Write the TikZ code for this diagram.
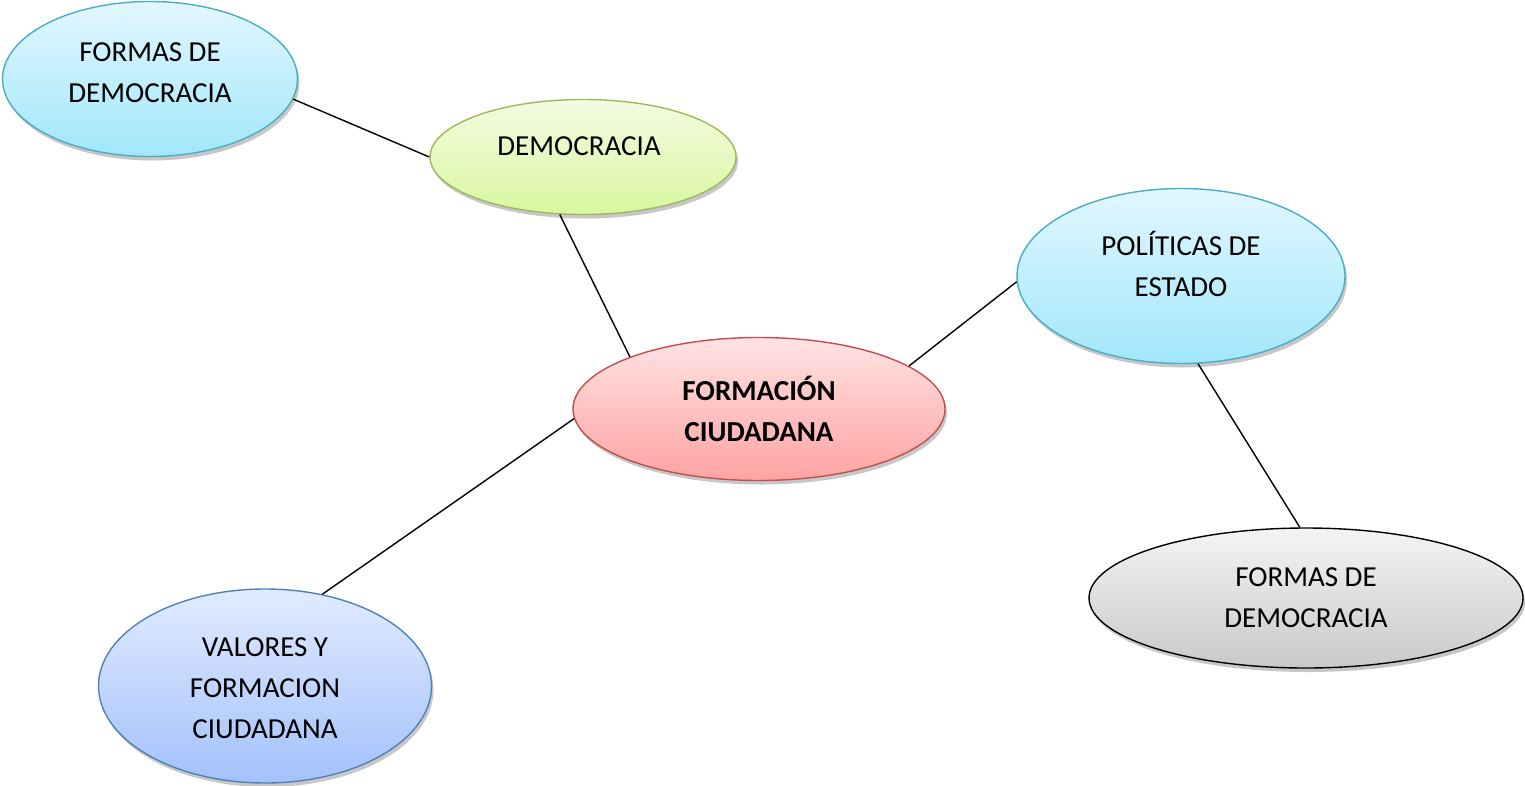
\documentclass[tikz,border=0pt]{standalone}
\usepackage{fontspec}
\setmainfont{Carlito}
\usetikzlibrary{shapes.geometric,shadows}
\definecolor{aquaTop}{HTML}{E2F7FE}
\definecolor{aquaBot}{HTML}{A2E7FB}
\definecolor{aquaLine}{HTML}{4BACC6}
\definecolor{greenTop}{HTML}{F4FBE2}
\definecolor{greenBot}{HTML}{D8F7A0}
\definecolor{greenLine}{HTML}{9BBB59}
\definecolor{redTop}{HTML}{FFE3E3}
\definecolor{redBot}{HTML}{FFA3A3}
\definecolor{redLine}{HTML}{C0504D}
\definecolor{blueTop}{HTML}{E1EBFF}
\definecolor{blueBot}{HTML}{A3C1FB}
\definecolor{blueLine}{HTML}{4F81BD}
\definecolor{grayTop}{HTML}{F4F4F4}
\definecolor{grayBot}{HTML}{C9C9C9}
\tikzset{
  bubble/.style={ellipse, inner sep=0pt, line width=1.4pt,
    drop shadow={shadow xshift=2pt, shadow yshift=-4pt, opacity=0.22, fill=black}},
  aqua/.style={bubble, draw=aquaLine, top color=aquaTop, bottom color=aquaBot},
  green/.style={bubble, draw=greenLine, top color=greenTop, bottom color=greenBot},
  red/.style={bubble, draw=redLine, top color=redTop, bottom color=redBot},
  blue/.style={bubble, draw=blueLine, top color=blueTop, bottom color=blueBot},
  grey/.style={bubble, draw=black, top color=grayTop, bottom color=grayBot},
  txt/.style={font=\fontsize{29pt}{41pt}\selectfont, align=center, inner sep=0pt},
  link/.style={line width=1.4pt, black}
}
\begin{document}
\begin{tikzpicture}[x=1pt, y=-1pt]
\useasboundingbox (0,0) rectangle (1525,785);
\node[aqua, minimum width=295pt, minimum height=155pt,
  label={[txt, name=t1, yshift=6pt]center:FORMAS DE\\DEMOCRACIA}] (fd1) at (150,79) {};
\node[green, minimum width=306pt, minimum height=115pt,
  label={[txt, name=t2, xshift=-4pt, yshift=11pt]center:DEMOCRACIA}] (dem) at (583,157) {};
\node[red, minimum width=372pt, minimum height=143pt,
  label={[txt, name=t3, font=\fontsize{29pt}{41pt}\selectfont\bfseries]center:FORMACIÓN\\CIUDADANA}] (fc) at (759,409) {};
\node[aqua, minimum width=328pt, minimum height=175pt,
  label={[txt, name=t4, yshift=12pt]center:POLÍTICAS DE\\ESTADO}] (pe) at (1181,276) {};
\node[grey, minimum width=434pt, minimum height=140pt,
  label={[txt, name=t5]center:FORMAS DE\\DEMOCRACIA}] (fd2) at (1306,598) {};
\node[blue, minimum width=333pt, minimum height=194pt,
  label={[txt, name=t6, yshift=-2pt]center:VALORES Y\\FORMACION\\CIUDADANA}] (vf) at (265,686) {};
\draw[link] (fd1.-8) -- (dem.180);
\draw[link] (dem.248) -- (fc.158);
\draw[link] (fc.183) -- (vf.58);
\draw[link] (fc.16) -- (pe.182);
\draw[link] (pe.-79) -- (fd2.95);
\end{tikzpicture}
\end{document}
